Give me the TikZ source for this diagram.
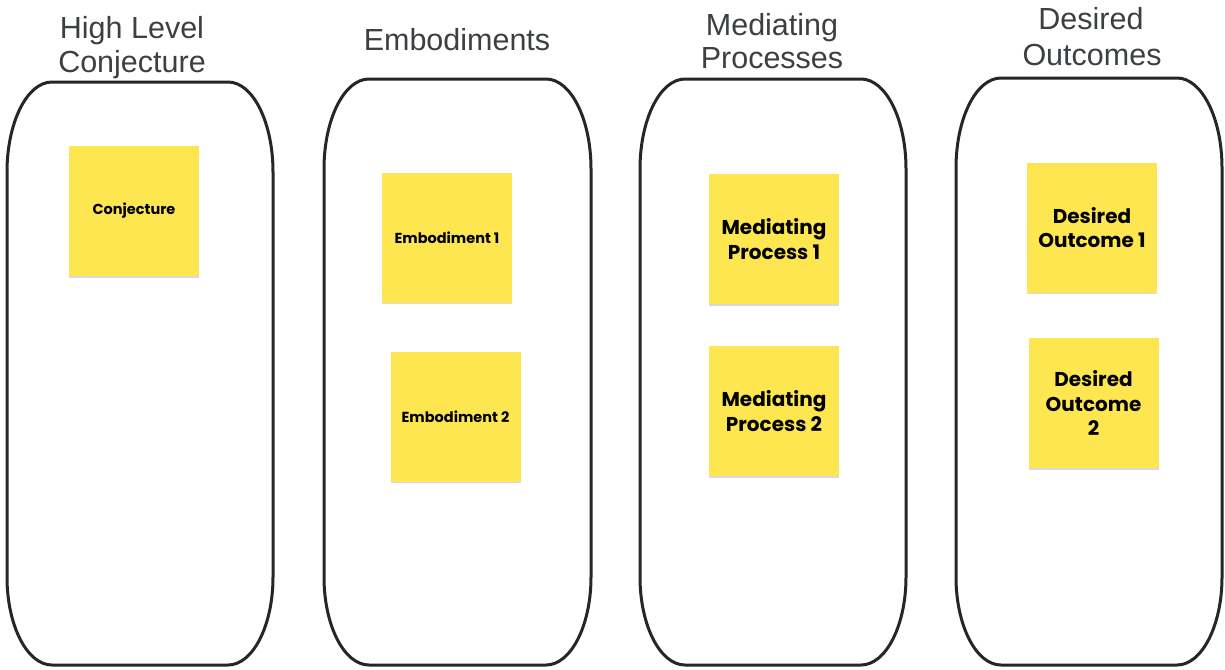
\documentclass[tikz,border=0pt]{standalone}
\usepackage{fontspec}
\setmainfont{Liberation Sans}
\newfontfamily\notefont{Poppins}[UprightFont=* SemiBold, BoldFont=* Bold]
\usetikzlibrary{shadows}
\definecolor{titlegray}{HTML}{3C4043}
\definecolor{noteyellow}{HTML}{FEE650}
\definecolor{rimgray}{HTML}{262626}
\tikzset{
  titletext/.style={font=\fontsize{30.5}{36}\selectfont, text=titlegray, anchor=base, inner sep=0pt},
  note/.style={fill=noteyellow, minimum width=130pt, minimum height=130pt, inner sep=2pt, align=center,
    drop shadow={shadow xshift=0pt, shadow yshift=-1.5pt, opacity=0.15, fill=black}},
  smallnote/.style={note, font=\notefont\bfseries\fontsize{14.5}{18}\selectfont},
  bignote/.style={note, font=\notefont\bfseries\fontsize{20}{24.5}\selectfont},
  rim/.style={draw=rimgray, line width=3pt}
}
% container: left, top, right, bottom
\newcommand{\capsulebox}[4]{%
  \draw[rim] (#1,#2+90) arc[start angle=180,end angle=270,x radius=45,y radius=90]
    -- (#3-45,#2) arc[start angle=270,end angle=360,x radius=45,y radius=90]
    -- (#3,#4-88) arc[start angle=0,end angle=90,x radius=45,y radius=88]
    -- (#1+45,#4) arc[start angle=90,end angle=180,x radius=45,y radius=88]
    -- cycle;}
\begin{document}
\begin{tikzpicture}[x=1pt,y=-1pt]
\useasboundingbox[fill=white] (0,0) rectangle (1225,669);
% containers
\capsulebox{7}{82}{273}{665}
\capsulebox{324}{79}{591}{665}
\capsulebox{640}{79}{906}{665}
\capsulebox{956}{78}{1222}{665}
% titles
\node[titletext] (t1a) at (132,38) {High Level};
\node[titletext] (t1b) at (132,73) {Conjecture};
\node[titletext] (t2) at (457,51) {Embodiments};
\node[titletext] (t3a) at (772,36) {Mediating};
\node[titletext] (t3b) at (772,69) {Processes};
\node[titletext] (t4a) at (1091,30) {Desired};
\node[titletext] (t4b) at (1092,65) {Outcomes};
% sticky notes
\node[smallnote] (conj) at (134,211) {Conjecture};
\node[smallnote] (emb1) at (447,237.5) {Embodiment 1};
\node[smallnote] (emb2) at (455.5,416.5) {Embodiment 2};
\node[bignote] (med1) at (774,239) {Mediating\\Process 1};
\node[bignote] (med2) at (774,411) {Mediating\\Process 2};
\node[bignote] (des1) at (1092,227.5) {Desired\\Outcome 1};
\node[bignote] (des2) at (1093.5,403) {Desired\\Outcome\\2};
\end{tikzpicture}
\end{document}
